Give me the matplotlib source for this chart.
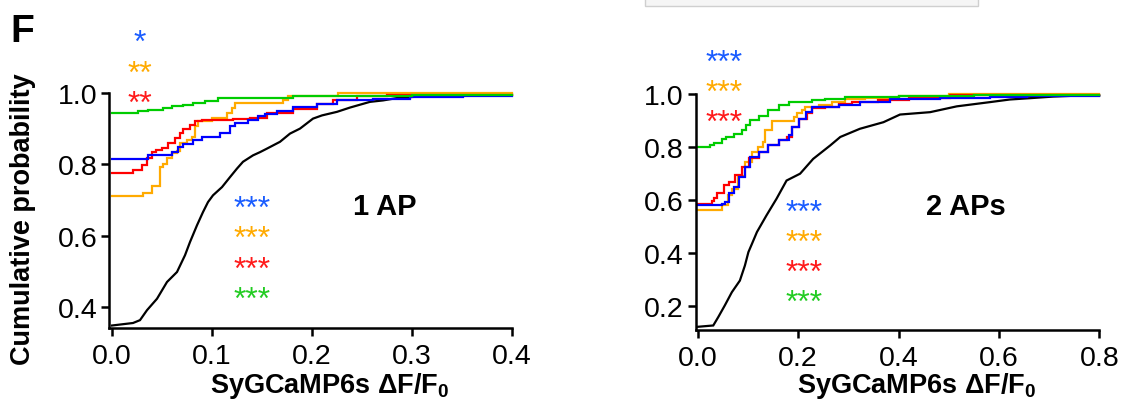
import matplotlib
matplotlib.use("Agg")
import matplotlib.pyplot as plt
from matplotlib.patches import Rectangle

plt.rcParams['font.family'] = ['Liberation Sans', 'DejaVu Sans']
plt.rcParams['mathtext.fontset'] = 'custom'
plt.rcParams['mathtext.rm'] = 'Liberation Sans'
plt.rcParams['mathtext.bf'] = 'Liberation Sans:bold'

# ---------------- data: 1 AP (cumulative distributions) ----------------
ap1_black_x = [0.0, 0.021, 0.028, 0.035, 0.045, 0.055, 0.065, 0.073, 0.078, 0.085, 0.091, 0.096,
               0.101, 0.110, 0.118, 0.125, 0.131, 0.141, 0.148, 0.155, 0.168, 0.178, 0.188, 0.201,
               0.210, 0.225, 0.238, 0.258, 0.271, 0.288, 0.325, 0.360]
ap1_black_y = [0.348, 0.355, 0.363, 0.391, 0.423, 0.470, 0.498, 0.545, 0.582, 0.629, 0.666, 0.694,
               0.713, 0.736, 0.764, 0.788, 0.807, 0.825, 0.834, 0.844, 0.863, 0.886, 0.900, 0.928,
               0.937, 0.947, 0.959, 0.975, 0.979, 0.987, 0.992, 0.995]
ap1_orange_x = [0.0, 0.031, 0.040, 0.048, 0.051, 0.055, 0.060, 0.065, 0.068, 0.075, 0.080, 0.083,
                0.086, 0.100, 0.115, 0.120, 0.123, 0.171, 0.176, 0.226]
ap1_orange_y = [0.710, 0.720, 0.740, 0.793, 0.801, 0.817, 0.831, 0.836, 0.859, 0.868, 0.877, 0.906,
                0.922, 0.929, 0.943, 0.957, 0.972, 0.981, 0.992, 1.000]
ap1_red_x = [0.0, 0.021, 0.030, 0.035, 0.040, 0.044, 0.050, 0.056, 0.063, 0.068, 0.071, 0.078,
             0.083, 0.090, 0.121, 0.138, 0.155, 0.181, 0.205, 0.221, 0.245, 0.275]
ap1_red_y = [0.776, 0.784, 0.798, 0.817, 0.835, 0.840, 0.845, 0.859, 0.873, 0.887, 0.898, 0.910,
             0.920, 0.924, 0.926, 0.930, 0.945, 0.956, 0.968, 0.981, 0.991, 0.994]
ap1_blue_x = [0.0, 0.036, 0.060, 0.066, 0.071, 0.081, 0.090, 0.108, 0.118, 0.123, 0.136, 0.146,
              0.153, 0.165, 0.181, 0.205, 0.225, 0.261, 0.298, 0.351]
ap1_blue_y = [0.814, 0.826, 0.835, 0.849, 0.857, 0.868, 0.877, 0.887, 0.906, 0.915, 0.924, 0.935,
              0.942, 0.950, 0.961, 0.970, 0.979, 0.984, 0.989, 0.992]
ap1_green_x = [0.0, 0.026, 0.036, 0.051, 0.060, 0.071, 0.081, 0.093, 0.106, 0.181, 0.300]
ap1_green_y = [0.945, 0.948, 0.952, 0.957, 0.962, 0.966, 0.973, 0.978, 0.986, 0.991, 0.994]

# ---------------- data: 2 APs ----------------
ap2_black_x = [0.0, 0.031, 0.041, 0.054, 0.068, 0.084, 0.094, 0.101, 0.108, 0.118, 0.137, 0.157,
               0.177, 0.204, 0.230, 0.264, 0.284, 0.323, 0.370, 0.403, 0.463, 0.516, 0.582, 0.622,
               0.662, 0.708, 0.760]
ap2_black_y = [0.120, 0.125, 0.157, 0.201, 0.251, 0.295, 0.352, 0.403, 0.434, 0.479, 0.542, 0.605,
               0.674, 0.700, 0.756, 0.807, 0.839, 0.870, 0.895, 0.924, 0.933, 0.955, 0.971, 0.981,
               0.986, 0.992, 0.996]
ap2_orange_x = [0.0, 0.048, 0.061, 0.068, 0.081, 0.094, 0.108, 0.121, 0.131, 0.135, 0.148, 0.191,
                0.198, 0.208, 0.214, 0.241, 0.267, 0.294, 0.333, 0.400, 0.500]
ap2_orange_y = [0.564, 0.583, 0.620, 0.643, 0.693, 0.744, 0.782, 0.801, 0.820, 0.865, 0.899, 0.916,
                0.930, 0.941, 0.953, 0.960, 0.972, 0.981, 0.986, 0.996, 1.000]
ap2_red_x = [0.0, 0.029, 0.033, 0.039, 0.052, 0.062, 0.075, 0.088, 0.102, 0.122, 0.141, 0.161,
             0.178, 0.188, 0.201, 0.218, 0.228, 0.254, 0.281, 0.308, 0.360, 0.420, 0.503]
ap2_red_y = [0.585, 0.595, 0.606, 0.625, 0.657, 0.669, 0.695, 0.726, 0.758, 0.783, 0.808, 0.827,
             0.840, 0.878, 0.909, 0.928, 0.947, 0.953, 0.964, 0.972, 0.980, 0.988, 0.998]
ap2_blue_x = [0.0, 0.048, 0.055, 0.062, 0.072, 0.082, 0.095, 0.105, 0.122, 0.141, 0.161, 0.181,
              0.188, 0.201, 0.215, 0.228, 0.281, 0.323, 0.383, 0.483, 0.582, 0.655]
ap2_blue_y = [0.581, 0.586, 0.594, 0.625, 0.650, 0.688, 0.726, 0.764, 0.783, 0.808, 0.827, 0.846,
              0.878, 0.909, 0.934, 0.951, 0.960, 0.971, 0.984, 0.988, 0.990, 0.994]
ap2_green_x = [0.0, 0.025, 0.032, 0.048, 0.057, 0.072, 0.088, 0.096, 0.105, 0.122, 0.141, 0.161,
               0.181, 0.228, 0.254, 0.294, 0.400, 0.550]
ap2_green_y = [0.802, 0.808, 0.818, 0.830, 0.840, 0.852, 0.867, 0.885, 0.903, 0.918, 0.941, 0.960,
               0.972, 0.979, 0.983, 0.989, 0.993, 0.997]

x_ticks_1 = [0.0, 0.1, 0.2, 0.3, 0.4]
y_ticks_1 = [0.4, 0.6, 0.8, 1.0]
x_ticks_2 = [0.0, 0.2, 0.4, 0.6, 0.8]
y_ticks_2 = [0.2, 0.4, 0.6, 0.8, 1.0]

panel_titles = ["1 AP", "2 APs"]
top_stars_1 = ["*", "**", "**"]
top_stars_2 = ["***", "***", "***"]
inner_stars = ["***", "***", "***", "***"]

C_BLACK = "#000000"
C_ORANGE = "#ffaa00"
C_RED = "#ff0000"
C_BLUE = "#0000ff"
C_GREEN = "#00cc00"
STAR_COLORS = ["#1a5cff", "#ffaa00", "#ff1a1a", "#22cc22"]

W, H = 1123, 406
fig = plt.figure(figsize=(W / 100, H / 100), dpi=100)


def px(x, y):
    return x / W, 1 - y / H


def make_axes(left, right, bottom_px, y_at_bottom, y_per_unit, xlim, xticks, yticks):
    ytop = 1.012
    height = (ytop - y_at_bottom) * y_per_unit
    ax = fig.add_axes([left / W, (H - bottom_px) / H, (right - left) / W, height / H])
    ax.set_xlim(*xlim)
    ax.set_ylim(y_at_bottom, ytop)
    for s in ("top", "right"):
        ax.spines[s].set_visible(False)
    for s in ("left", "bottom"):
        ax.spines[s].set_linewidth(1.8)
    ax.spines["left"].set_bounds(y_at_bottom, 1.0)
    ax.set_xticks(xticks)
    ax.set_yticks(yticks)
    ax.set_xticklabels([f"{t:.1f}" for t in xticks])
    ax.set_yticklabels([f"{t:.1f}" for t in yticks])
    ax.tick_params(direction="out", length=6, width=1.8, labelsize=20.5, pad=2.5)
    ax.tick_params(axis="x", pad=5)
    return ax


ax1 = make_axes(109, 512, 329, 0.341, 356.7, (-0.003, 0.4), x_ticks_1, y_ticks_1)
ax2 = make_axes(695.7, 1099.3, 330.7, 0.109, 264.0, (-0.004, 0.8), x_ticks_2, y_ticks_2)


def draw(ax, xs, ys, color, xmax, style):
    ax.plot(list(xs) + [xmax], list(ys) + [ys[-1]], color=color, lw=1.6,
            drawstyle=style, clip_on=False, solid_joinstyle="miter")


for ax, series, xmax in [
    (ax1, [(ap1_black_x, ap1_black_y, C_BLACK), (ap1_orange_x, ap1_orange_y, C_ORANGE),
           (ap1_red_x, ap1_red_y, C_RED), (ap1_blue_x, ap1_blue_y, C_BLUE),
           (ap1_green_x, ap1_green_y, C_GREEN)], 0.4),
    (ax2, [(ap2_black_x, ap2_black_y, C_BLACK), (ap2_orange_x, ap2_orange_y, C_ORANGE),
           (ap2_red_x, ap2_red_y, C_RED), (ap2_blue_x, ap2_blue_y, C_BLUE),
           (ap2_green_x, ap2_green_y, C_GREEN)], 0.8),
]:
    for xs, ys, c in series:
        draw(ax, xs, ys, c, xmax, "default" if c == C_BLACK else "steps-post")

# panel titles
fig.text(*px(353, 207), panel_titles[0], fontsize=21, fontweight="bold", ha="left", va="center")
fig.text(*px(926, 207), panel_titles[1], fontsize=21, fontweight="bold", ha="left", va="center")

# panel letter
fig.text(*px(10, 42), "F", fontsize=28, fontweight="bold", ha="left", va="baseline")

# axis labels
fig.text(*px(23, 219), "Cumulative probability", fontsize=19.5, fontweight="bold",
         rotation=90, ha="center", va="center")
xlab = "SyGCaMP6s \u0394F/F$_\\mathbf{0}$"
fig.text(*px(210, 393), xlab, fontsize=19.5, fontweight="bold", ha="left", va="baseline")
fig.text(*px(797, 393), xlab, fontsize=19.5, fontweight="bold", ha="left", va="baseline")

# significance stars (center positions in pixels)
STAR_FS = 23
star_off = 0.47 * STAR_FS * 100 / 72


def star(x, y, s, c):
    fig.text(*px(x, y + star_off), s, fontsize=STAR_FS, color=c,
             ha="center", va="baseline")


for i, s in enumerate(top_stars_1):
    star(140, 37 + 30.5 * i, s, STAR_COLORS[i])
for i, s in enumerate(top_stars_2):
    star(724, 57 + 30 * i, s, STAR_COLORS[i])
for i, s in enumerate(inner_stars):
    star(252, 203 + 30.3 * i, s, STAR_COLORS[i])
    star(804, 207 + 30 * i, s, STAR_COLORS[i])

# partial grey box at top (cropped element of the original figure)
fig.patches.append(Rectangle(px(645, 7), (978 - 645) / W, 10 / H, transform=fig.transFigure,
                             facecolor="#f5f5f5", edgecolor="#cfcfcf", lw=1))

fig.savefig("out.png", dpi=100)
